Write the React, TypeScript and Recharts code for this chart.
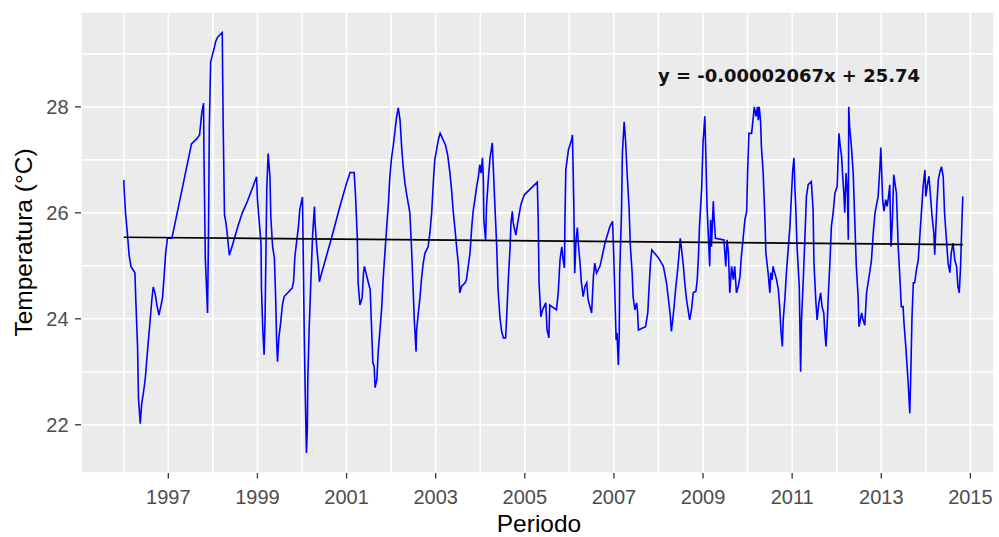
import React from 'react';
import { LineChart, Line, XAxis, YAxis, CartesianGrid } from 'recharts';

// Decimal-year dates of each observation
const fechas: number[] = [
  1996.00, 1996.01, 1996.04, 1996.08, 1996.12, 1996.16, 1996.25, 1996.27, 1996.31, 1996.33, 1996.37, 1996.40,
  1996.44, 1996.48, 1996.51, 1996.55, 1996.59, 1996.63, 1996.66, 1996.70, 1996.75, 1996.79, 1996.83, 1996.87,
  1996.90, 1996.94, 1996.98,
  1997.08, 1997.13, 1997.52, 1997.64, 1997.70, 1997.72, 1997.75, 1997.79, 1997.80, 1997.83, 1997.88, 1997.90,
  1997.92, 1997.95, 1997.99,
  1998.03, 1998.06, 1998.11, 1998.21, 1998.23, 1998.26, 1998.29, 1998.32, 1998.35, 1998.37, 1998.46, 1998.56,
  1998.66, 1998.77, 1998.88, 1998.98,
  1999.00, 1999.06, 1999.08, 1999.09, 1999.12, 1999.15, 1999.17, 1999.21, 1999.24, 1999.28, 1999.30, 1999.34,
  1999.38, 1999.41, 1999.43, 1999.45, 1999.48, 1999.52, 1999.56, 1999.60, 1999.78, 1999.81, 1999.84, 1999.88,
  1999.92, 1999.95,
  2000.01, 2000.03, 2000.05, 2000.07, 2000.10, 2000.12, 2000.13, 2000.16, 2000.20, 2000.24, 2000.28, 2000.29,
  2000.33, 2000.37, 2000.39, 2000.44, 2000.67, 2000.85,
  2001.00, 2001.08, 2001.17, 2001.20, 2001.24, 2001.26, 2001.30, 2001.35, 2001.38, 2001.40, 2001.49, 2001.53,
  2001.55, 2001.59, 2001.62, 2001.64, 2001.68, 2001.71, 2001.75, 2001.79, 2001.82, 2001.86, 2001.90, 2001.94,
  2001.97,
  2002.01, 2002.05, 2002.09, 2002.12, 2002.16, 2002.20, 2002.24, 2002.27, 2002.31, 2002.35, 2002.39, 2002.42,
  2002.46, 2002.50, 2002.52, 2002.56, 2002.57, 2002.61, 2002.65, 2002.68, 2002.72, 2002.76, 2002.83, 2002.87,
  2002.91, 2002.95, 2002.98,
  2003.02, 2003.06, 2003.10, 2003.22, 2003.27, 2003.32, 2003.36, 2003.39, 2003.43, 2003.47, 2003.51, 2003.54,
  2003.58, 2003.66, 2003.69, 2003.73, 2003.77, 2003.81, 2003.84, 2003.88, 2003.92, 2003.96, 2003.99,
  2004.02, 2004.05, 2004.07, 2004.08, 2004.12, 2004.14, 2004.18, 2004.22, 2004.27, 2004.29, 2004.33, 2004.37,
  2004.40, 2004.44, 2004.48, 2004.52, 2004.57, 2004.59, 2004.63, 2004.67, 2004.69, 2004.72, 2004.74, 2004.80,
  2004.84, 2004.88, 2004.91, 2004.95, 2004.99,
  2005.28, 2005.30, 2005.32, 2005.36, 2005.40, 2005.47, 2005.50, 2005.54, 2005.56, 2005.71, 2005.75, 2005.79,
  2005.83, 2005.86, 2005.89, 2005.90, 2005.92, 2005.98,
  2006.05, 2006.07, 2006.10, 2006.12, 2006.15, 2006.18, 2006.20, 2006.24, 2006.27, 2006.31, 2006.35, 2006.39,
  2006.42, 2006.50, 2006.54, 2006.57, 2006.61, 2006.69, 2006.80, 2006.91, 2006.97, 2006.99,
  2007.02, 2007.05, 2007.07, 2007.10, 2007.12, 2007.13, 2007.17, 2007.19, 2007.23, 2007.26, 2007.30, 2007.34,
  2007.37, 2007.41, 2007.43, 2007.47, 2007.51, 2007.53, 2007.55, 2007.71, 2007.76, 2007.79, 2007.82, 2007.85,
  2008.00, 2008.11, 2008.18, 2008.26, 2008.29, 2008.32, 2008.35, 2008.39, 2008.43, 2008.47, 2008.49, 2008.52,
  2008.56, 2008.59, 2008.63, 2008.67, 2008.70, 2008.74, 2008.78, 2008.84, 2008.87, 2008.90, 2008.92, 2008.97,
  2009.00, 2009.04, 2009.06, 2009.09, 2009.13, 2009.15, 2009.17, 2009.19, 2009.23, 2009.25, 2009.28, 2009.47,
  2009.49, 2009.51, 2009.54, 2009.57, 2009.60, 2009.64, 2009.68, 2009.71, 2009.75, 2009.79, 2009.83, 2009.86,
  2009.90, 2009.94, 2009.98,
  2010.00, 2010.03, 2010.09, 2010.13, 2010.15, 2010.19, 2010.22, 2010.24, 2010.26, 2010.29, 2010.31, 2010.35,
  2010.39, 2010.41, 2010.46, 2010.50, 2010.52, 2010.55, 2010.57, 2010.65, 2010.69, 2010.72, 2010.75, 2010.78,
  2010.80, 2010.84, 2010.87, 2010.91, 2010.95, 2010.98,
  2011.01, 2011.04, 2011.06, 2011.08, 2011.11, 2011.16, 2011.19, 2011.21, 2011.25, 2011.29, 2011.32, 2011.36,
  2011.43, 2011.47, 2011.49, 2011.53, 2011.56, 2011.60, 2011.64, 2011.67, 2011.71, 2011.73, 2011.76, 2011.79,
  2011.81, 2011.85, 2011.88, 2011.92, 2011.96,
  2012.01, 2012.03, 2012.05, 2012.08, 2012.11, 2012.13, 2012.16, 2012.18, 2012.21, 2012.24, 2012.26, 2012.27,
  2012.29, 2012.33, 2012.37, 2012.41, 2012.44, 2012.48, 2012.50, 2012.56, 2012.59, 2012.63, 2012.67, 2012.74,
  2012.78, 2012.82, 2012.86, 2012.93, 2012.97, 2012.99,
  2013.03, 2013.06, 2013.10, 2013.13, 2013.16, 2013.19, 2013.22, 2013.25, 2013.28, 2013.34, 2013.38, 2013.42,
  2013.45, 2013.49, 2013.51, 2013.55, 2013.60, 2013.64, 2013.66, 2013.69, 2013.72, 2013.75, 2013.79, 2013.83,
  2013.86, 2013.90, 2013.94, 2013.98,
  2014.00, 2014.03, 2014.07, 2014.10, 2014.14, 2014.18, 2014.20, 2014.22, 2014.25, 2014.28, 2014.31, 2014.35,
  2014.39, 2014.42, 2014.46, 2014.50, 2014.54, 2014.57, 2014.61, 2014.65, 2014.69, 2014.72, 2014.75, 2014.78,
  2014.81, 2014.83,
];

// Temperature (°C) at each date above
const temperaturas: number[] = [
  26.62, 26.42, 25.99, 25.62, 25.20, 24.99, 24.87, 24.36, 23.45, 22.50, 22.02, 22.38,
  22.60, 22.85, 23.16, 23.57, 23.95, 24.36, 24.60, 24.49, 24.23, 24.07, 24.23, 24.40,
  24.74, 25.24, 25.52,
  25.52, 25.72, 27.30, 27.40, 27.47, 27.63, 27.88, 28.07, 27.06, 25.15, 24.11, 25.49,
  27.63, 28.85, 28.98,
  29.11, 29.23, 29.32, 29.40, 27.72, 25.96, 25.83, 25.62, 25.36, 25.20, 25.45, 25.74,
  26.00, 26.21, 26.45, 26.68,
  26.25, 25.62, 25.43, 24.58, 23.79, 23.32, 23.98, 26.47, 27.12, 26.69, 25.93, 25.36,
  25.15, 24.36, 23.60, 23.19, 23.64, 23.92, 24.26, 24.42, 24.58, 24.70, 25.17, 25.46,
  25.74, 26.06,
  26.30, 25.05, 23.73, 22.70, 21.47, 21.94, 22.85, 23.79, 24.74, 25.62, 26.12, 25.84,
  25.36, 24.99, 24.70, 24.86, 25.55, 26.12,
  26.56, 26.76, 26.76, 26.34, 25.55, 24.67, 24.26, 24.40, 24.86, 24.99, 24.68, 24.55,
  24.08, 23.17, 23.10, 22.70, 22.85, 23.38, 23.79, 24.23, 24.74, 25.24, 25.72, 26.19,
  26.66,
  27.04, 27.28, 27.57, 27.79, 27.98, 27.75, 27.19, 26.87, 26.56, 26.34, 26.15, 26.00,
  25.30, 24.42, 23.98, 23.38, 23.76, 24.11, 24.42, 24.74, 25.05, 25.24, 25.36, 25.62,
  26.00, 26.62, 27.00,
  27.19, 27.38, 27.50, 27.28, 27.09, 26.75, 26.40, 26.06, 25.72, 25.36, 25.02, 24.49,
  24.61, 24.68, 24.74, 24.99, 25.24, 25.74, 26.03, 26.25, 26.50, 26.69, 26.91,
  26.75, 27.04, 26.62, 25.87, 25.49, 26.12, 26.62, 27.04, 27.32, 26.91, 26.12, 25.36,
  24.55, 24.04, 23.76, 23.64, 23.64, 23.98, 24.74, 25.36, 25.81, 26.03, 25.81, 25.58,
  25.81, 26.00, 26.15, 26.25, 26.34,
  26.58, 25.93, 24.68, 24.04, 24.17, 24.30, 23.79, 23.64, 24.26, 24.17, 24.49, 25.11,
  25.36, 25.11, 24.96, 25.81, 26.81, 27.19,
  27.38, 27.47, 26.15, 24.86, 25.49, 25.72, 25.43, 25.05, 24.68, 24.42, 24.61, 24.68,
  24.36, 24.11, 24.80, 25.05, 24.86, 25.00, 25.43, 25.74, 25.84, 25.36,
  24.49, 23.60, 23.73, 23.13, 23.73, 24.86, 26.00, 27.13, 27.72, 27.38, 26.69, 26.09,
  25.36, 24.86, 24.42, 24.17, 24.30, 24.14, 23.79, 23.85, 24.11, 24.61, 25.05, 25.30,
  25.15, 24.99, 24.68, 24.11, 23.76, 23.98, 24.23, 24.61, 24.92, 25.30, 25.52, 25.30,
  24.99, 24.68, 24.36, 24.14, 23.98, 24.17, 24.49, 24.52, 24.74, 25.24, 25.74, 26.47,
  27.32, 27.82, 27.19, 26.12, 25.36, 24.99, 25.87, 25.36, 26.22, 25.87, 25.52, 25.49,
  25.24, 24.99, 25.49, 25.24, 24.49, 24.99, 24.74, 24.99, 24.49, 24.61, 24.80, 25.18,
  25.52, 25.87, 26.03,
  26.75, 27.50, 27.50, 27.82, 28.00, 27.82, 28.00, 27.75, 28.00, 27.75, 27.25, 26.75,
  25.87, 25.24, 24.87, 24.49, 24.87, 24.74, 24.99, 24.74, 24.55, 24.23, 23.76, 23.48,
  23.98, 24.42, 24.86, 25.30, 25.74, 26.25,
  26.78, 27.04, 26.50, 26.12, 25.36, 24.61, 23.00, 23.98, 24.74, 25.62, 26.31, 26.53,
  26.59, 26.06, 25.05, 24.36, 23.98, 24.30, 24.49, 24.23, 24.11, 23.79, 23.48, 23.98,
  24.42, 25.11, 25.74, 26.00, 26.37,
  26.50, 27.00, 27.50, 27.25, 27.06, 26.75, 26.37, 26.00, 26.75, 26.37, 25.49, 28.00,
  27.62, 27.25, 26.75, 25.74, 24.99, 24.42, 23.85, 24.11, 23.98, 23.88, 24.49, 24.87,
  25.11, 25.62, 26.00, 26.31, 26.87, 27.23,
  26.25, 26.03, 26.25, 26.12, 26.28, 26.53, 25.36, 25.87, 26.72, 26.37, 25.36, 24.74,
  24.23, 24.23, 23.92, 23.48, 22.85, 22.22, 22.85, 24.04, 24.68, 24.68, 24.93, 25.11,
  25.49, 26.00, 26.50, 26.81,
  26.31, 26.50, 26.69, 26.37, 25.93, 25.62, 25.21, 25.62, 26.19, 26.62, 26.75, 26.87,
  26.69, 26.00, 25.52, 25.05, 24.87, 25.24, 25.43, 25.11, 24.99, 24.61, 24.49, 24.99,
  25.84, 26.31,
];

// Linear trend (fitted line) end points
const tendenciaFechas: number[] = [1996.0, 2014.83];
const tendenciaValores: number[] = [25.54, 25.40];

const ecuacion = 'y = -0.00002067x + 25.74';
const tituloX = 'Periodo';
const tituloY = 'Temperatura (°C)';

const xGridTicks: number[] = [1996, 1997, 1998, 1999, 2000, 2001, 2002, 2003, 2004, 2005, 2006, 2007, 2008, 2009, 2010, 2011, 2012, 2013, 2014, 2015];
const xLabelTicks: number[] = [1997, 1999, 2001, 2003, 2005, 2007, 2009, 2011, 2013, 2015];
const yGridTicks: number[] = [22, 23, 24, 25, 26, 27, 28, 29];
const yLabelTicks: number[] = [22, 24, 26, 28];

const serie = fechas.map((t, i) => ({ t, temp: temperaturas[i] }));
const tendencia = tendenciaFechas.map((t, i) => ({ t, fit: tendenciaValores[i] }));

const FONT = '"Liberation Sans", Arial, Helvetica, sans-serif';

const XTick = (props: any) => {
  const { x, y, payload } = props;
  if (!xLabelTicks.includes(Math.round(payload.value))) return <g />;
  return (
    <g>
      <line x1={x} x2={x} y1={y} y2={y + 5.5} stroke="#333333" strokeWidth={1.3} />
      <text x={x} y={y + 30.5} textAnchor="middle" fill="#4D4D4D" fontSize={20} fontFamily={FONT}>
        {payload.value}
      </text>
    </g>
  );
};

const YTick = (props: any) => {
  const { x, y, payload } = props;
  if (!yLabelTicks.includes(Math.round(payload.value))) return <g />;
  return (
    <g>
      <line x1={x - 6} x2={x} y1={y} y2={y} stroke="#333333" strokeWidth={1.3} />
      <text x={x - 12.4} y={y} dy="0.355em" textAnchor="end" fill="#4D4D4D" fontSize={20} fontFamily={FONT}>
        {payload.value}
      </text>
    </g>
  );
};

export default function App() {
  return (
    <div style={{ position: 'absolute', left: 0, top: 0, width: 999, height: 537, background: '#FFFFFF' }}>
      <LineChart width={999} height={537} margin={{ top: 12, right: 5, bottom: 4, left: 0 }}>
        <CartesianGrid fill="#EBEBEB" stroke="#FFFFFF" strokeWidth={1.6} strokeOpacity={1} />
        <XAxis
          type="number"
          dataKey="t"
          domain={[1995.04, 2015.53]}
          ticks={xGridTicks}
          interval={0}
          allowDataOverflow
          tick={<XTick />}
          tickLine={false}
          axisLine={false}
          tickSize={0}
          tickMargin={0}
          height={60}
        />
        <YAxis
          type="number"
          domain={[21.09, 29.79]}
          ticks={yGridTicks}
          interval={0}
          allowDataOverflow
          tick={<YTick />}
          tickLine={false}
          axisLine={false}
          tickSize={0}
          tickMargin={0}
          width={81}
        />
        <Line
          data={serie}
          dataKey="temp"
          type="linear"
          stroke="#0000FF"
          strokeWidth={1.6}
          dot={false}
          activeDot={false}
          isAnimationActive={false}
        />
        <Line
          data={tendencia}
          dataKey="fit"
          type="linear"
          stroke="#000000"
          strokeWidth={1.6}
          dot={false}
          activeDot={false}
          isAnimationActive={false}
        />
        <text
          x={658}
          y={82}
          fontFamily='"DejaVu Sans", sans-serif'
          fontWeight="bold"
          fontSize={17.6}
          fill="#111111"
          textLength={262}
          lengthAdjust="spacingAndGlyphs"
        >
          {ecuacion}
        </text>
        <text x={539} y={531.5} textAnchor="middle" fontFamily={FONT} fontSize={24.5} fill="#000000">
          {tituloX}
        </text>
        <text
          x={32}
          y={242.5}
          transform="rotate(-90 32 242.5)"
          textAnchor="middle"
          fontFamily={FONT}
          fontSize={24.5}
          fill="#000000"
        >
          {tituloY}
        </text>
      </LineChart>
    </div>
  );
}
